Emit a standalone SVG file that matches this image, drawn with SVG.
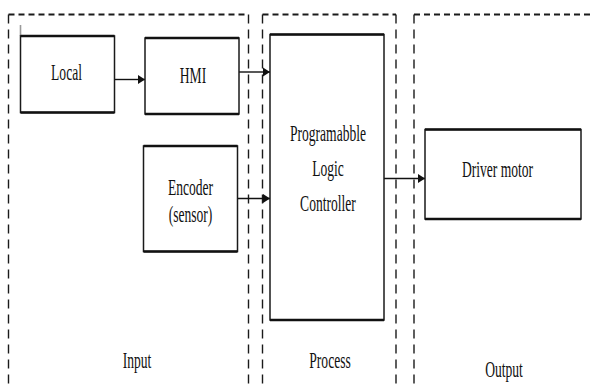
<svg xmlns="http://www.w3.org/2000/svg" width="592" height="387" viewBox="0 0 592 387">
  <style>
    .bg { fill: #ffffff; }
    .zone-h { fill: none; stroke: #1a1a1a; stroke-width: 2; stroke-dasharray: 6 4; }
    .zone-v { fill: none; stroke: #1a1a1a; stroke-width: 1.4; stroke-dasharray: 9 6; }
    .box { fill: #ffffff; stroke: #1a1a1a; stroke-width: 1.5; }
    .edge { stroke: #111111; stroke-width: 2.6; fill: none; }
    .link { stroke: #111111; stroke-width: 1.4; fill: none; marker-end: url(#head); }
    .lbl { font-family: "Liberation Serif", "Times New Roman", serif; font-size: 23px; fill: #111111; text-anchor: middle; }
  </style>
  <defs>
    <marker id="head" markerWidth="8" markerHeight="10" refX="7" refY="5" orient="auto" markerUnits="userSpaceOnUse">
      <path d="M0,0.5 L7,5 L0,9.5 z" fill="#111111"/>
    </marker>
  </defs>

  <rect class="bg" x="0" y="0" width="592" height="387"/>

  <!-- stage frames: open at the bottom -->
  <g id="zone-input">
    <path class="zone-h" d="M8.5,14.5 H248.5"/>
    <path class="zone-v" d="M8.5,14.5 V387 M248.5,14.5 V387"/>
    <text class="lbl" transform="matrix(0.59 0 0 1 137 368)">Input</text>
  </g>
  <g id="zone-process">
    <path class="zone-h" d="M262.5,14.5 H396"/>
    <path class="zone-v" d="M262.5,14.5 V387 M396,14.5 V387"/>
    <text class="lbl" transform="matrix(0.59 0 0 1 330 368)">Process</text>
  </g>
  <g id="zone-output">
    <path class="zone-v" d="M414,14.5 V387"/>
    <path class="zone-h" d="M414,14.5 H592"/>
    <text class="lbl" transform="matrix(0.59 0 0 1 504 377)">Output</text>
  </g>

  <!-- connectors -->
  <g id="connectors">
    <path class="link" d="M114.5,79.5 H145"/>
    <path class="link" d="M239,72 H270"/>
    <path class="link" d="M237.5,198.5 H270"/>
    <path class="link" d="M384,178.5 H425"/>
  </g>

  <g id="node-local">
    <path d="M20.5,25 V36" stroke="#9a9a9a" stroke-width="1.6"/>
    <rect class="box" x="20.5" y="36" width="94" height="76.5"/>
    <path class="edge" d="M20.5,36 H114.5 M20.5,112.5 H114.5"/>
    <text class="lbl" transform="matrix(0.59 0 0 1 66.5 80)">Local</text>
  </g>

  <g id="node-hmi">
    <rect class="box" x="145" y="38" width="94" height="76"/>
    <path class="edge" d="M145,38 H239 M145,114 H239"/>
    <text class="lbl" transform="matrix(0.59 0 0 1 193 83)">HMI</text>
  </g>

  <g id="node-encoder">
    <rect class="box" x="143.5" y="146" width="94" height="105.5"/>
    <path class="edge" d="M143.5,146 H237.5 M143.5,251.5 H237.5"/>
    <text class="lbl" transform="matrix(0.59 0 0 1 190.5 195)">Encoder</text>
    <text class="lbl" transform="matrix(0.59 0 0 1 190.5 222)">(sensor)</text>
  </g>

  <g id="node-plc">
    <rect class="box" x="270" y="34.5" width="114" height="285.5"/>
    <path class="edge" d="M270,34.5 H384 M270,320 H384"/>
    <text class="lbl" transform="matrix(0.59 0 0 1 328 141)">Programabble</text>
    <text class="lbl" transform="matrix(0.59 0 0 1 328 176)">Logic</text>
    <text class="lbl" transform="matrix(0.59 0 0 1 328 211)">Controller</text>
  </g>

  <g id="node-driver">
    <rect class="box" x="425" y="129.5" width="156" height="89.5"/>
    <path class="edge" d="M425,129.5 H581 M425,219 H581"/>
    <text class="lbl" transform="matrix(0.59 0 0 1 497.5 176.5)">Driver motor</text>
  </g>
</svg>
